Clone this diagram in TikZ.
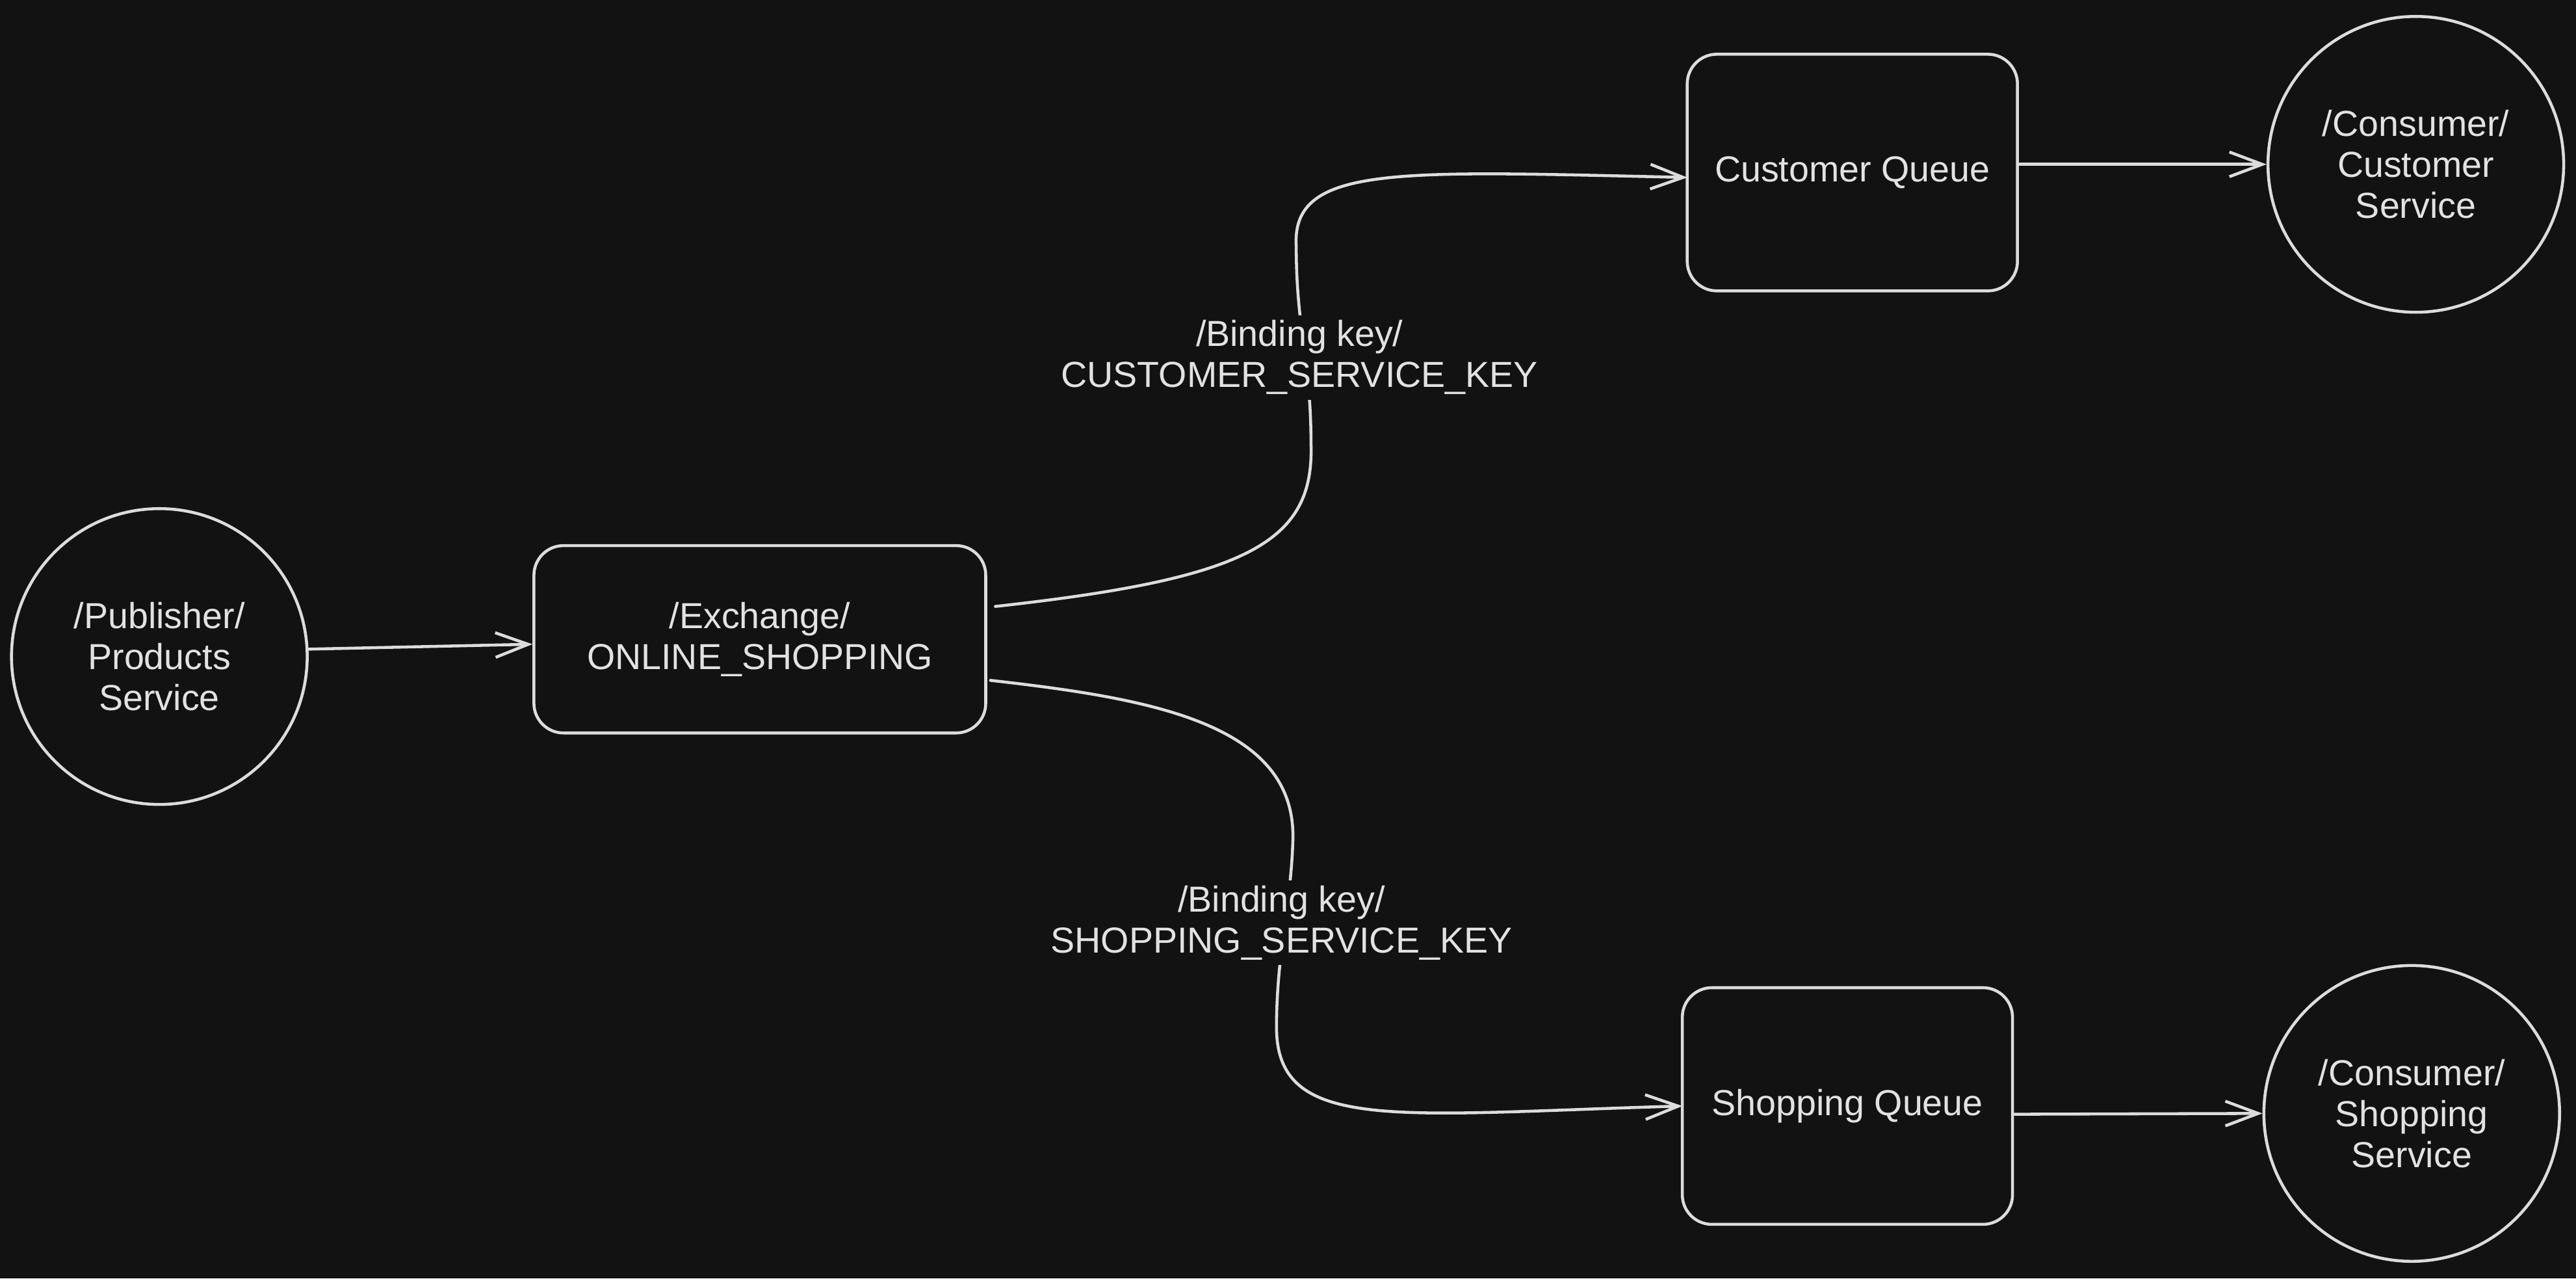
\documentclass[tikz,border=0pt]{standalone}
\usepackage{fontspec}
\setmainfont{Liberation Sans}
\usetikzlibrary{arrows.meta}
\definecolor{bg}{HTML}{121212}
\definecolor{ink}{HTML}{DCDCDC}
\definecolor{txt}{HTML}{E2E2E2}
\begin{document}
\begin{tikzpicture}[x=1pt,y=-1pt,
  every node/.style={text=txt,font=\fontsize{22}{25}\selectfont,align=center,inner sep=0pt},
  roundbox/.style={draw=ink,line width=1.8pt,rounded corners=18pt},
  actor/.style={draw=ink,line width=1.8pt,circle,minimum size=180pt},
  conn/.style={draw=ink,line width=1.8pt,line cap=round,-{Straight Barb[length=20pt,width=15pt,line width=1.8pt]}},
  keylabel/.style={fill=bg,inner sep=3pt}]
\fill[bg] (0,0) rectangle (1568,778);
\useasboundingbox (0,0) rectangle (1568,778);

\node[actor] (pub) at (97,399.5) {/Publisher/\\Products\\Service};
\node[roundbox,minimum width=275pt,minimum height=114pt] (ex) at (462.5,389) {/Exchange/\\ONLINE\_SHOPPING};
\node[roundbox,minimum width=201pt,minimum height=144pt] (cq) at (1127.5,105) {Customer Queue};
\node[roundbox,minimum width=201pt,minimum height=144pt] (sq) at (1124.5,673) {Shopping Queue};
\node[actor] (cc) at (1470.5,100) {/Consumer/\\Customer\\Service};
\node[actor] (cs) at (1468,677.5) {/Consumer/\\Shopping\\Service};

\draw[conn] ([yshift=4.5pt]pub.east) -- ([yshift=-3pt]ex.west);

\draw[conn] ([shift={(5,-20)}]ex.east)
  .. controls (760,352) and (800,330) .. (798,270)
  .. controls (798,220) and (789,200) .. (789,150)
  .. controls (786,100) and (850,104) .. ([shift={(1,3)}]cq.west);

\draw[conn] ([shift={(2,25)}]ex.east)
  .. controls (700,425) and (788,440) .. (787,510)
  .. controls (786,550) and (777,580) .. (777,625)
  .. controls (777,690) and (850,678) .. ([shift={(1,0)}]sq.west);

\draw[conn] ([yshift=5pt]cq.east) -- (cc.west);
\draw[conn] ([yshift=-5pt]sq.east) -- (cs.west);

\node[keylabel] (k1) at (791,217.5) {/Binding key/\\CUSTOMER\_SERVICE\_KEY};
\node[keylabel] (k2) at (780,561.5) {/Binding key/\\SHOPPING\_SERVICE\_KEY};
\end{tikzpicture}
\end{document}
